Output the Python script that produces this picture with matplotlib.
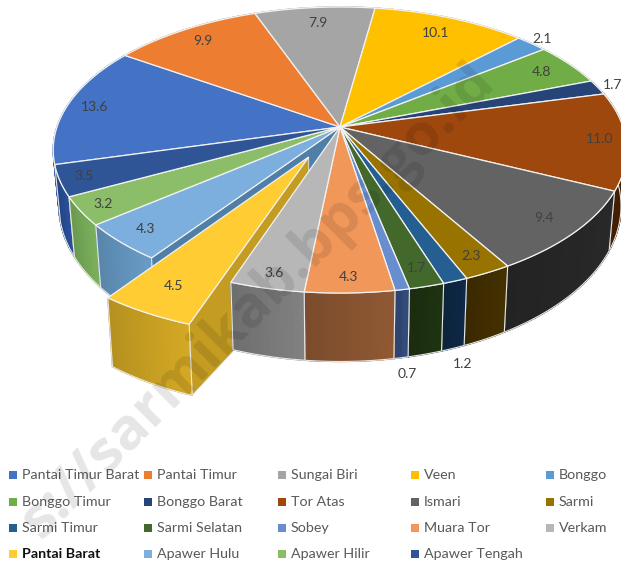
import numpy as np
import matplotlib
matplotlib.use("Agg")
import matplotlib.pyplot as plt
from matplotlib.colors import to_rgb
from matplotlib.patches import Polygon

plt.rcParams['font.family'] = ['Lato', 'DejaVu Sans']

# data
nama = ["Pantai Timur Barat", "Pantai Timur", "Sungai Biri", "Veen", "Bonggo",
        "Bonggo Timur", "Bonggo Barat", "Tor Atas", "Ismari", "Sarmi",
        "Sarmi Timur", "Sarmi Selatan", "Sobey", "Muara Tor", "Verkam",
        "Pantai Barat", "Apawer Hulu", "Apawer Hilir", "Apawer Tengah"]
nilai = [13.6, 9.9, 7.9, 10.1, 2.1, 4.8, 1.7, 11.0, 9.4, 2.3,
         1.2, 1.7, 0.7, 4.3, 3.6, 4.5, 4.3, 3.2, 3.5]

warna = ["#4472C4", "#ED7D31", "#A5A5A5", "#FFC000", "#5B9BD5",
         "#70AD47", "#264478", "#9E480E", "#636363", "#997300",
         "#255E91", "#43682B", "#698ED0", "#F1975A", "#B7B7B7",
         "#FFCD33", "#7CAFDD", "#8CBD68", "#2F5597"]
warna_sisi = ["#2c4f8f", "#a85a22", "#777777", "#b58a00", "#3f6f9a",
              "#6f9f52", "#1b3157", "#4a2000", "#262626", "#3f2d00",
              "#0e2540", "#1c2f10", "#2f4570", "#85522f", "#777777",
              "#c49c22", "#6090b8", "#72a455", "#264a90"]

# label placement: radius on the pie and extra shift in pixels
label_r = [0.90, 0.87, 0.85, 0.85, 1.06, 0.87, 1.06, 0.91, 0.88, 0.90,
           1.0, 0.90, 1.0, 0.92, 0.92, 0.85, 0.90, 0.92, 0.92]
label_dx = [0] * 19
label_dy = [0] * 19
label_dx[10], label_dy[10] = 7, 83
label_dx[12], label_dy[12] = 5, 84

# geometry of the tilted pie, in pixels
cx, cy = 340, 127
a, b, k = 283, 139.3, 0.161
kedalaman = 54
skala_x, skala_y = 0.98, 1.087
sudut_awal = 255
pecah = 15      # Pantai Barat is pulled out
verkam = 14
jarak_pecah = 0.234


def proj(u, v, bawah=False):
    w = 1 + k * v
    x = cx + a * u / w
    y = cy - b * v / w
    if bawah:
        x = cx + (x - cx) * skala_x
        y = cy + kedalaman + (y - cy) * skala_y
    return np.column_stack([x, y])


def busur(t1, t2, off=(0, 0), n=60):
    t = np.radians(np.linspace(t1, t2, n))
    return np.sin(t) + off[0], np.cos(t) + off[1]


def gelap(warna_hex, f):
    return tuple(min(1, c * f) for c in to_rgb(warna_hex))


def gambar_sisi(ax, t1, t2, warna_hex, off=(0, 0), z=2):
    # outer wall, cut into strips for the slight gradient
    n = max(int(t2 - t1), 2) + 1
    u, v = busur(t1, t2, off, n)
    atas = proj(u, v)
    bawah = proj(u, v, True)
    for i in range(n - 1):
        f = 1.08 - 0.16 * i / (n - 1)
        pts = [atas[i], atas[i + 1], bawah[i + 1], bawah[i]]
        ax.add_patch(Polygon(pts, closed=True, fc=gelap(warna_hex, f),
                             ec=gelap(warna_hex, f), lw=1.0, zorder=z))
    tepi = np.vstack([atas, bawah[::-1]])
    ax.add_patch(Polygon(tepi, closed=True, fill=False, ec="#e8e8e8", lw=0.8, zorder=z))


def gambar_dinding(ax, t, warna_hex, off=(0, 0), z=2, tambah=0):
    # radial wall from the centre to the rim
    u = np.array([off[0], np.sin(np.radians(t)) + off[0]])
    v = np.array([off[1], np.cos(np.radians(t)) + off[1]])
    atas = proj(u, v)
    bawah = proj(u, v, True)
    bawah[0, 1] += tambah
    ax.add_patch(Polygon(np.vstack([atas, bawah[::-1]]), closed=True,
                         fc=warna_hex, ec="#e8e8e8", lw=0.6, zorder=z))


def gambar_atas(ax, t1, t2, warna_hex, off=(0, 0), z=3):
    u, v = busur(t1, t2, off)
    u = np.r_[off[0], u]
    v = np.r_[off[1], v]
    ax.add_patch(Polygon(proj(u, v), closed=True, fc=warna_hex,
                         ec="#f2f2f2", lw=0.9, zorder=z))


fig = plt.figure(figsize=(6.21, 5.65), dpi=100)
ax = fig.add_axes([0, 0, 1, 1])
ax.set_xlim(0, 621)
ax.set_ylim(565, 0)
ax.axis("off")

total = sum(nilai)
kum = np.cumsum([0] + nilai) / total * 360 + sudut_awal
tengah = (kum[:-1] + kum[1:]) / 2

t_p = np.radians(tengah[pecah])
off_p = (jarak_pecah * np.sin(t_p), jarak_pecah * np.cos(t_p))

# back slices first, so the front walls end up on top
urutan = sorted(range(len(nilai)), key=lambda i: -np.cos(np.radians(tengah[i])))
for i in urutan:
    if i not in (pecah, verkam):
        gambar_sisi(ax, kum[i], kum[i + 1], warna_sisi[i])

# wall seen through the gap left by the pulled slice
gambar_dinding(ax, kum[pecah + 1], "#4f7ea7")

# the pulled slice sits behind Verkam, only its top comes last
gambar_dinding(ax, kum[pecah], warna_sisi[pecah], off_p, tambah=56)
gambar_sisi(ax, kum[pecah], kum[pecah + 1], warna_sisi[pecah], off_p)
gambar_sisi(ax, kum[verkam], kum[verkam + 1], warna_sisi[verkam])

for i in range(len(nilai)):
    if i != pecah:
        gambar_atas(ax, kum[i], kum[i + 1], warna[i])

gambar_atas(ax, kum[pecah], kum[pecah + 1], warna[pecah], off_p, z=5)

# data labels
for i, val in enumerate(nilai):
    t = np.radians(tengah[i])
    o = off_p if i == pecah else (0, 0)
    p = proj(np.array([label_r[i] * np.sin(t) + o[0]]),
             np.array([label_r[i] * np.cos(t) + o[1]]))[0]
    ax.text(p[0] + label_dx[i], p[1] + label_dy[i], f"{val:.1f}", ha="center", va="center",
            fontsize=10, color="#404040", zorder=6)

# legend
kolom_x = [13, 148, 282, 415, 550]
baris_y = [475, 501.5, 527.5, 554]
for i, n in enumerate(nama):
    x = kolom_x[i % 5]
    y = baris_y[i // 5]
    ax.scatter([x], [y], marker="s", s=26, color=warna[i], linewidths=0, zorder=6)
    if n == "Pantai Barat":
        ax.text(x + 9, y, n, ha="left", va="center", fontsize=10.3,
                color="#111111", fontweight="bold", zorder=6)
    else:
        ax.text(x + 9, y, n, ha="left", va="center", fontsize=10.3,
                color="#595959", zorder=6)

# watermark
ax.text(258, 301, "s://sarmikab.bps.go.id", rotation=45, rotation_mode="anchor",
        ha="center", va="center", fontsize=42, fontweight="bold", color="black",
        family="Open Sans", alpha=0.10, zorder=7)

fig.savefig("out.png", dpi=100)
